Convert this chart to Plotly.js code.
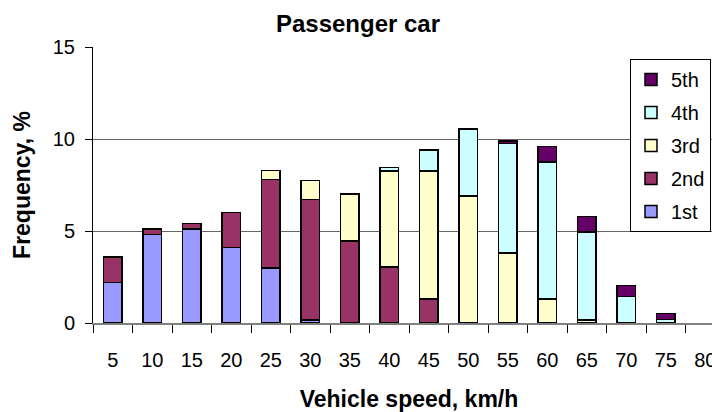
<!DOCTYPE html>
<html>
<head>
<meta charset="utf-8">
<script src="https://cdn.plot.ly/plotly-3.0.1.min.js"></script>
<style>
html,body{margin:0;padding:0;overflow:hidden;background:#fff;}
#chart{width:728px;height:412px;}
</style>
</head>
<body>
<div id="chart"></div>
<script>
// Vehicle speed categories (km/h)
var speeds = ["5","10","15","20","25","30","35","40","45","50","55","60","65","70","75","80"];
// Frequency (%) per gear
var gear1 = [2.2, 4.8, 5.1, 4.1, 3.0, 0.15, null, null, null, null, null, null, null, null, null, null];
var gear2 = [1.4, 0.3, 0.3, 1.9, 4.8, 6.55, 4.45, 3.05, 1.3, null, null, null, null, null, null, null];
var gear3 = [null, null, null, null, 0.5, 1.05, 2.55, 5.2, 6.95, 6.9, 3.8, 1.3, 0.15, null, null, null];
var gear4 = [null, null, null, null, null, null, null, 0.2, 1.15, 3.65, 5.95, 7.45, 4.8, 1.45, 0.2, null];
var gear5 = [null, null, null, null, null, null, null, null, null, null, 0.15, 0.85, 0.85, 0.6, 0.33, null];

var names = ["1st", "2nd", "3rd", "4th", "5th"];
var series = [gear1, gear2, gear3, gear4, gear5];
var colors = ["#9999FF", "#993366", "#FFFFCC", "#CCFFFF", "#660066"];

var FONT = "Liberation Sans, Arial, sans-serif";

var traces = series.map(function (vals, i) {
  return {
    type: "bar",
    name: names[i],
    legendgroup: names[i],
    legendrank: 10 - i,
    x: speeds,
    y: vals,
    marker: {color: colors[i], line: {color: "#000000", width: 1.5}},
    hoverinfo: "x+y+name"
  };
});

var layout = {
  width: 728,
  height: 412,
  margin: {l: 93, r: 3, t: 47, b: 89, pad: 0},
  paper_bgcolor: "#ffffff",
  plot_bgcolor: "#ffffff",
  barmode: "stack",
  bargap: 0.54,
  font: {family: FONT, color: "#000000", size: 20},
  title: {
    text: "<b>Passenger car</b>",
    font: {family: FONT, size: 24, color: "#000000"},
    xref: "container", x: 358 / 728, xanchor: "center",
    yref: "container", y: 1 - 24 / 412, yanchor: "middle"
  },
  xaxis: {
    type: "category",
    categoryorder: "array",
    categoryarray: speeds,
    tickson: "boundaries",
    ticks: "outside",
    ticklen: 8,
    tickcolor: "#000000",
    tickwidth: 1,
    showline: true,
    linecolor: "#808080",
    linewidth: 2,
    showgrid: false,
    tickfont: {family: FONT, size: 20, color: "#000000"},
    ticklabelstandoff: 18,
    title: {text: "<b>Vehicle speed, km/h</b>", font: {family: FONT, size: 23, color: "#000000"}, standoff: 24},
    automargin: false,
    fixedrange: true
  },
  yaxis: {
    range: [0, 15],
    tickvals: [0, 5, 10, 15],
    ticktext: ["0", "5", "10", "15"],
    ticks: "outside",
    ticklen: 7,
    tickcolor: "#000000",
    showline: true,
    linecolor: "#000000",
    linewidth: 1,
    showgrid: true,
    gridcolor: "#666666",
    gridwidth: 1,
    zeroline: false,
    tickfont: {family: FONT, size: 20, color: "#000000"},
    ticklabelstandoff: 6,
    title: {text: "<b>Frequency, %</b>", font: {family: FONT, size: 23, color: "#000000"}, standoff: 15},
    automargin: false,
    fixedrange: true
  },
  showlegend: true,
  legend: {
    x: (630 - 93) / 632, xanchor: "left",
    y: (323 - 59) / 276, yanchor: "top",
    bgcolor: "#ffffff",
    bordercolor: "#000000",
    borderwidth: 1,
    traceorder: "grouped",
    tracegroupgap: 4,
    itemwidth: 30,
    font: {family: FONT, size: 20, color: "#000000"}
  }
};

Plotly.newPlot("chart", traces, layout, {displayModeBar: false, staticPlot: true});
</script>
</body>
</html>
